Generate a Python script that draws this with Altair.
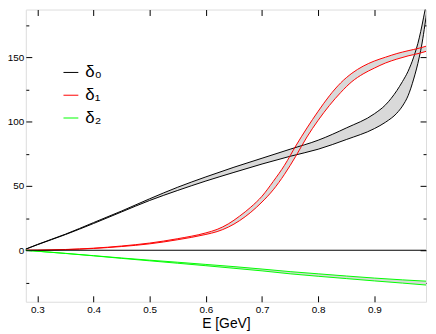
import altair as alt
import pandas as pd

# delta_0 band (black)
E0 = [0.277, 0.3, 0.35, 0.4, 0.45, 0.5, 0.55, 0.6, 0.65, 0.7, 0.75, 0.8, 0.85, 0.9, 0.92, 0.94, 0.95, 0.96, 0.97, 0.98, 0.985, 0.99, 0.994]
d0_hi = [0.5, 4.5, 12.5, 21.5, 30.5, 40, 49, 57, 64.5, 71.5, 78.5, 85.5, 95, 106, 113, 124, 131, 139, 150, 165, 175, 186, 194]
d0_lo = [0.5, 4.3, 12.2, 20.8, 29.8, 38.7, 46.5, 53.8, 60.5, 67, 73, 78.5, 86, 94.5, 99.5, 106.5, 112, 120, 133, 150, 161, 175, 187]

# delta_1 band (red)
E1 = [0.28, 0.3, 0.35, 0.4, 0.45, 0.5, 0.55, 0.6, 0.62, 0.64, 0.66, 0.68, 0.7, 0.72, 0.74, 0.76, 0.78, 0.8, 0.82, 0.84, 0.86, 0.88, 0.9, 0.92, 0.94, 0.96, 0.98, 0.992]
d1_hi = [0, 0.1, 0.6, 1.6, 3.3, 5.6, 9, 13.5, 16.2, 20.5, 26.5, 33.5, 42, 53.5, 66, 81, 95, 108, 120, 130, 137.5, 143, 147, 150, 152.8, 155, 157, 158.5]
d1_lo = [0, 0, 0.5, 1.4, 2.9, 5.0, 8.2, 12.3, 14.5, 18, 23, 29.5, 37.5, 47, 59, 73, 88, 101, 112.5, 122.5, 131, 137, 141.5, 145.5, 148.5, 151, 153, 154.5]

# delta_2 band (green)
E2 = [0.278, 0.35, 0.4, 0.45, 0.5, 0.55, 0.6, 0.65, 0.7, 0.75, 0.8, 0.85, 0.9, 0.95, 0.992]
d2_hi = [0, -2.4, -4.2, -6.0, -7.7, -9.3, -11.0, -12.7, -14.6, -16.6, -18.3, -20, -21.6, -23, -24]
d2_lo = [0, -2.5, -4.3, -6.3, -8.2, -10.1, -12.0, -14.0, -16.0, -18.3, -20.2, -22.0, -23.8, -25.5, -27]

zero_level = [0]

series_names = ["δ₀", "δ₁", "δ₂"]
series_colors = ["#000000", "#ff0000", "#00ff00"]

x_major = [0.3, 0.4, 0.5, 0.6, 0.7, 0.8, 0.9]
y_major = [0, 50, 100, 150]
y_minor = [-25, 25, 75, 125, 175]

bands = [(series_names[0], E0, d0_lo, d0_hi),
         (series_names[1], E1, d1_lo, d1_hi),
         (series_names[2], E2, d2_lo, d2_hi)]

band_rows, line_rows = [], []
for name, E, lo, hi in bands:
    for e, l, h in zip(E, lo, hi):
        band_rows.append({"E": e, "lo": l, "hi": h, "series": name})
        line_rows.append({"E": e, "v": l, "series": name, "bound": "lo"})
        line_rows.append({"E": e, "v": h, "series": name, "bound": "hi"})
band_df = pd.DataFrame(band_rows)
line_df = pd.DataFrame(line_rows)
zero_df = pd.DataFrame({"v": zero_level})

xs = alt.Scale(domain=[0.2794, 0.992], nice=False, zero=False)
ys = alt.Scale(domain=[-40, 187], nice=False, zero=False)

FONT = "Liberation Sans"
common = dict(domain=False, tickColor="black", tickWidth=1, grid=False,
              labelFont=FONT, labelFontSize=10, labelColor="black")

ax_bottom = alt.Axis(orient="bottom", values=x_major, tickSize=6, offset=-6, labelPadding=3,
                     format=".1f", title="E [GeV]", titleFont=FONT, titleFontSize=14,
                     titleFontWeight="normal", titleColor="black", titlePadding=2, **common)
ax_top = alt.Axis(orient="top", values=x_major, tickSize=6, offset=-6, labels=False, title=None, **common)
ax_left = alt.Axis(orient="left", values=y_major, tickSize=6, offset=-6, labelPadding=2,
                   title=None, **common)
ax_left_minor = alt.Axis(orient="left", values=y_minor, tickSize=3, offset=-3, labels=False, title=None, **common)
ax_right = alt.Axis(orient="right", values=y_major, tickSize=6, offset=-6, labels=False, title=None, **common)
ax_right_minor = alt.Axis(orient="right", values=y_minor, tickSize=3, offset=-3, labels=False, title=None, **common)

areas = alt.Chart(band_df).mark_area(color="#d9d9d9", clip=True, interpolate="monotone").encode(
    x=alt.X("E:Q", scale=xs, axis=ax_bottom),
    y=alt.Y("lo:Q", scale=ys, axis=ax_left),
    y2="hi:Q",
    detail="series:N",
)

lines = alt.Chart(line_df).mark_line(strokeWidth=1, clip=True, interpolate="monotone").encode(
    x=alt.X("E:Q", scale=xs, axis=ax_top),
    y=alt.Y("v:Q", scale=ys, axis=ax_left_minor),
    color=alt.Color("series:N",
                    scale=alt.Scale(domain=series_names, range=series_colors),
                    legend=alt.Legend(orient="none", legendX=37, legendY=55, title=None,
                                      symbolType="stroke", symbolSize=225, symbolStrokeWidth=1,
                                      labelFont=FONT, labelFontSize=17, labelColor="black",
                                      rowPadding=5, padding=0, labelOffset=6)),
    detail="bound:N",
)

def helper(xaxis, yaxis):
    return alt.Chart(line_df).mark_line(opacity=0, clip=True).encode(
        x=alt.X("E:Q", scale=xs, axis=xaxis),
        y=alt.Y("v:Q", scale=ys, axis=yaxis),
        detail="bound:N",
    )

zero = alt.Chart(zero_df).mark_rule(color="#000000", strokeWidth=1).encode(
    y=alt.Y("v:Q", scale=ys, axis=None)
)

chart = alt.layer(
    areas, lines, zero,
    helper(None, ax_right), helper(None, ax_right_minor),
).resolve_axis(x="independent", y="independent").properties(
    width=404, height=295,
    autosize=alt.AutoSizeParams(type="none"),
    padding={"left": 18, "top": 0, "right": 2, "bottom": 31},
).configure_view(stroke="black", strokeWidth=1).configure(background="white")

chart.save("out.html", embed_options={"renderer": "svg", "actions": False})
